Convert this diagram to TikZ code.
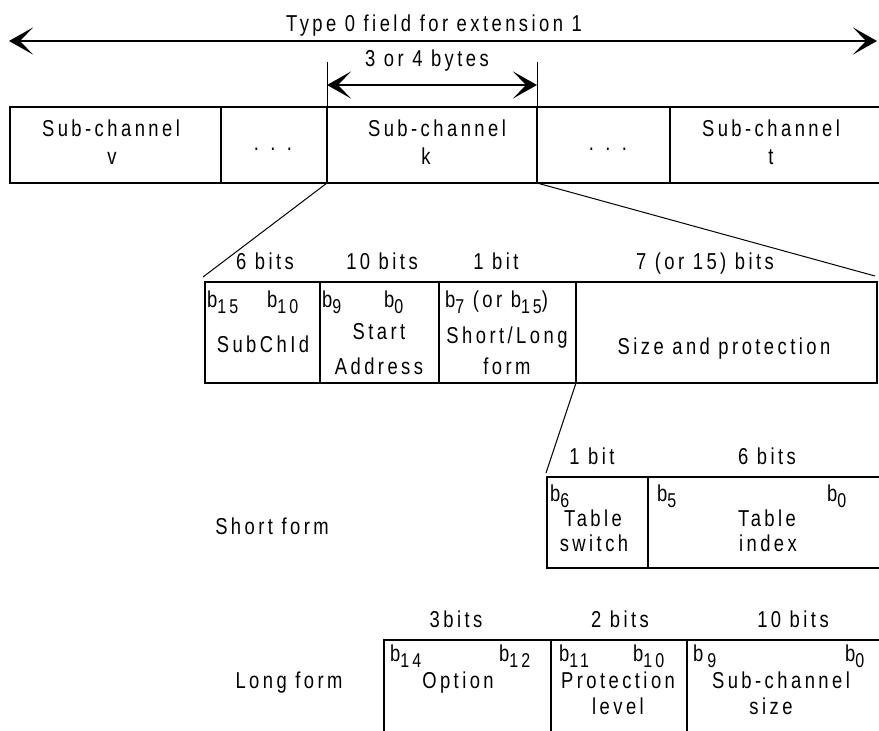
\documentclass[tikz,border=0pt]{standalone}
\usepackage{fontspec}
\setmainfont{Liberation Sans}[FakeStretch=0.8,LetterSpace=15]
\usetikzlibrary{arrows.meta,fit}
\newcommand{\bsb}[1]{b\raisebox{-6pt}{\fontsize{20}{20}\selectfont #1}}
\begin{document}
\begin{tikzpicture}[x=1pt,y=-1pt,
  txt/.style={font=\fontsize{23}{27}\selectfont, inner sep=0pt, anchor=base},
  lbl/.style={txt, anchor=base west},
  field/.style={draw, line width=2.4pt, inner sep=0pt, outer sep=0pt},
  thinline/.style={line width=1pt},
  dimline/.style={line width=2.7pt, {Stealth[length=24pt,width=27pt,inset=13pt]}-{Stealth[length=24pt,width=27pt,inset=13pt]}},
]
\useasboundingbox (0,0) rectangle (879,731);
\clip (0,0) rectangle (879,731);

% row 1
\node[field, fit={(10,107) (221,183)}] (sv) {};
\node[field, fit={(221,107) (327,183)}] (d1) {};
\node[field, fit={(327,107) (537,183)}] (sk) {};
\node[field, fit={(537,107) (670,183)}] (d2) {};
\node[field, fit={(670,107) (905,183)}] (st) {};

% row 2
\node[field, fit={(205,282) (320,383)}] (fid) {};
\node[field, fit={(320,282) (439,383)}] (fsa) {};
\node[field, fit={(439,282) (576,383)}] (fsl) {};
\node[field, fit={(576,282) (877,383)}] (fsp) {};

% row 3
\node[field, fit={(547,477) (648,568)}] (ts) {};
\node[field, fit={(648,477) (905,568)}] (ti) {};

% row 4
\node[field, fit={(384,640) (551,760)}] (op) {};
\node[field, fit={(551,640) (687,760)}] (pl) {};
\node[field, fit={(687,640) (905,760)}] (sz) {};

% dimension arrows
\coordinate (bigL) at (9,41);
\coordinate (bigR) at (877,41);
\draw[dimline] (bigL) -- (bigR);
\coordinate (extL) at (327,62);
\coordinate (extR) at (537,62);
\draw[thinline] (sk.north west) -- (extL);
\draw[thinline] (sk.north east) -- (extR);
\coordinate (smL) at (327,85);
\coordinate (smR) at (537,85);
\draw[dimline] (smL) -- (smR);

% expansion lines
\coordinate (x1) at (203,277);
\coordinate (x2) at (875,276);
\coordinate (x3) at (546,473);
\draw[thinline] (sk.south west) -- (x1);
\draw[thinline] (sk.south east) -- (x2);
\draw[thinline] (fsp.south west) -- (x3);

% texts
\node[txt] (title) at (434,31) {Type 0 field for extension 1};
\node[txt] (bytes) at (427,66) {3 or 4 bytes};

\node[txt] (t1) at (111,136) {Sub-channel};
\node[txt] (t2) at (112,164) {v};
\node[txt] (t3) at (273,150) {. . .};
\node[txt] (t4) at (437,136) {Sub-channel};
\node[txt] (t5) at (426,164) {k};
\node[txt] (t6) at (608,150) {. . .};
\node[txt] (t7) at (771,136) {Sub-channel};
\node[txt] (t8) at (771,164) {t};

\node[txt] (l1) at (265,269) {6 bits};
\node[txt] (l2) at (382,269) {10 bits};
\node[txt] (l3) at (496,269) {1 bit};
\node[txt] (l4) at (705,269) {7 (or 15) bits};

\node[lbl] (b1) at (207,307) {\bsb{15}};
\node[lbl] (b2) at (267,307) {\bsb{10}};
\node[lbl] (b3) at (322,307) {\bsb{9}};
\node[lbl] (b4) at (384,307) {\bsb{0}};
\node[lbl] (b5) at (445,307) {\bsb{7} (or \bsb{15})};
\node[txt] (s1) at (263,352) {SubChId};
\node[txt] (s2) at (379,339) {Start};
\node[txt] (s3) at (379,374) {Address};
\node[txt] (s4) at (507,343) {Short/Long};
\node[txt] (s5) at (507,374) {form};
\node[txt] (s6) at (724,354) {Size and protection};

\node[txt] (l5) at (592,464) {1 bit};
\node[txt] (l6) at (767,464) {6 bits};
\node[lbl] (b6) at (550,501) {\bsb{6}};
\node[lbl] (b7) at (657,501) {\bsb{5}};
\node[lbl] (b8) at (827,501) {\bsb{0}};
\node[txt] (u1) at (593,526) {Table};
\node[txt] (u2) at (594,551) {switch};
\node[txt] (u3) at (767,526) {Table};
\node[txt] (u4) at (768,551) {index};
\node[txt] (sf) at (272,534) {Short form};

\node[txt] (l7) at (456,627) {3bits};
\node[txt] (l8) at (620,627) {2 bits};
\node[txt] (l9) at (793,627) {10 bits};
\node[txt] (lf) at (289,688) {Long form};
\node[lbl] (b9) at (390,661) {\bsb{14}};
\node[lbl] (b10) at (499,661) {\bsb{12}};
\node[lbl] (b11) at (559,661) {\bsb{11}};
\node[lbl] (b12) at (633,661) {\bsb{10}};
\node[lbl] (b13) at (693,661) {b\,\raisebox{-6pt}{\fontsize{20}{20}\selectfont 9}};
\node[lbl] (b14) at (845,661) {\bsb{0}};
\node[txt] (v1) at (458,688) {Option};
\node[txt] (v2) at (618,688) {Protection};
\node[txt] (v3) at (618,714) {level};
\node[txt] (v4) at (781,688) {Sub-channel};
\node[txt] (v5) at (771,714) {size};
\end{tikzpicture}
\end{document}
